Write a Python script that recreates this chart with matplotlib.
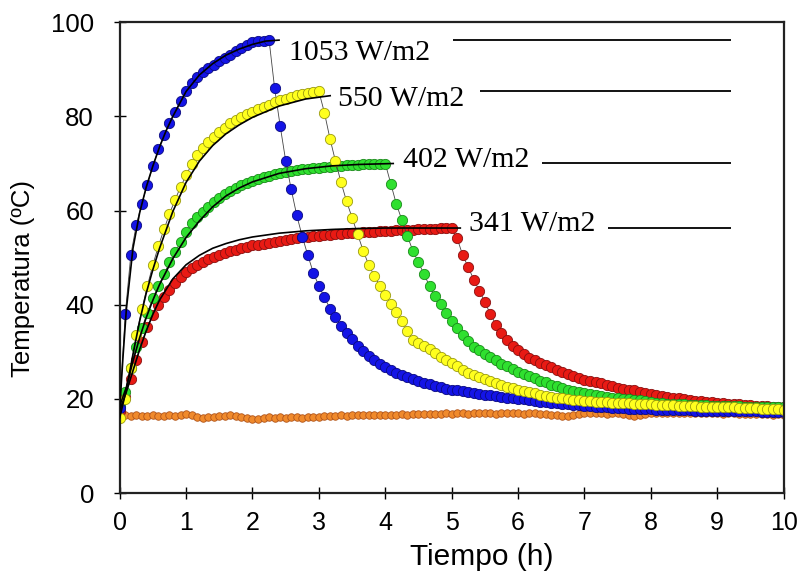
import matplotlib
matplotlib.use("Agg")
import matplotlib.pyplot as plt
import numpy as np

# measured temperatures every 5 min, 0 - 10 h
T_1053 = [18.0, 38.0, 50.5, 57.0, 61.5, 65.5, 69.5, 73.0, 76.0, 78.5, 81.0, 83.3,
          85.5, 87.0, 88.3, 89.4, 90.3, 91.0, 91.8, 92.5, 93.1, 93.8, 94.5, 95.1,
          95.7, 96.0, 96.1, 96.2, 86.0, 78.0, 70.6, 64.5, 59.0, 54.5, 50.5, 46.8,
          44.0, 41.6, 39.2, 37.5, 35.5, 34.0, 32.8, 31.3, 30.2, 29.2, 28.3, 27.5,
          26.8, 26.2, 25.6, 25.1, 24.6, 24.2, 23.8, 23.4, 23.1, 22.8, 22.5, 22.2,
          22.0, 21.8, 21.6, 21.5, 21.3, 21.1, 20.9, 20.8, 20.6, 20.5, 20.3, 20.2,
          20.0, 19.9, 19.7, 19.6, 19.4, 19.3, 19.2, 19.1, 19.0, 18.9, 18.8, 18.7,
          18.6, 18.5, 18.4, 18.3, 18.2, 18.1, 18.0, 18.0, 17.9, 17.9, 17.8, 17.8,
          17.8, 17.7, 17.7, 17.7, 17.6, 17.6, 17.6, 17.6, 17.5, 17.5, 17.5, 17.5,
          17.5, 17.5, 17.4, 17.4, 17.4, 17.4, 17.4, 17.4, 17.3, 17.3, 17.3, 17.3,
          17.3]
T_550 = [16.0, 20.0, 26.5, 33.5, 39.0, 44.0, 48.5, 52.5, 56.0, 59.3, 62.3, 65.0,
         67.5, 69.8, 71.8, 73.3, 74.5, 75.6, 76.6, 77.6, 78.5, 79.2, 79.9, 80.5,
         81.0, 81.5, 82.0, 82.5, 83.0, 83.5, 83.8, 84.1, 84.5, 84.8, 85.0, 85.2,
         85.3, 80.8, 75.3, 70.5, 66.0, 62.0, 58.5, 55.0, 51.5, 48.5, 46.2, 44.0,
         42.0, 40.2, 38.4, 36.5, 34.5, 32.6, 31.9, 31.3, 30.6, 29.8, 29.0, 28.3,
         27.6, 26.9, 26.2, 25.6, 25.0, 24.6, 24.2, 23.8, 23.4, 23.0, 22.6, 22.3,
         22.0, 21.7, 21.4, 21.2, 20.9, 20.7, 20.5, 20.3, 20.1, 20.0, 19.8, 19.7,
         19.6, 19.5, 19.4, 19.4, 19.3, 19.2, 19.2, 19.1, 19.1, 19.0, 19.0, 18.9,
         18.9, 18.8, 18.8, 18.7, 18.7, 18.6, 18.6, 18.5, 18.5, 18.4, 18.4, 18.4,
         18.3, 18.3, 18.2, 18.2, 18.1, 18.1, 18.0, 18.0, 17.9, 17.9, 17.8, 17.8,
         17.7]
T_402 = [18.5, 21.5, 26.5, 31.0, 35.0, 38.3, 41.5, 44.0, 46.5, 49.0, 51.2, 53.3,
         55.5, 57.3, 58.7, 59.8, 60.8, 61.8, 62.7, 63.5, 64.2, 64.8, 65.4, 65.9,
         66.3, 66.7, 67.1, 67.4, 67.7, 68.0, 68.2, 68.4, 68.6, 68.8, 68.9, 69.0,
         69.1, 69.2, 69.3, 69.4, 69.5, 69.6, 69.6, 69.7, 69.8, 69.8, 69.9, 70.0,
         70.0, 65.7, 61.4, 58.0, 54.6, 51.4, 49.0, 46.5, 44.0, 41.8, 40.2, 38.3,
         36.6, 35.0, 33.6, 32.3, 31.1, 30.3, 29.6, 28.9, 28.2, 27.5, 26.9, 26.3,
         25.8, 25.3, 24.8, 24.4, 23.9, 23.5, 23.0, 22.7, 22.3, 22.0, 21.7, 21.5,
         21.3, 21.1, 20.9, 20.7, 20.5, 20.3, 20.2, 20.0, 19.9, 19.8, 19.7, 19.5,
         19.3, 19.2, 19.1, 19.0, 19.0, 18.9, 18.9, 18.8, 18.8, 18.7, 18.7, 18.6,
         18.6, 18.6, 18.5, 18.5, 18.5, 18.4, 18.4, 18.4, 18.3, 18.3, 18.3, 18.2,
         18.2]
T_341 = [17.5, 20.5, 24.3, 28.3, 32.0, 35.2, 37.8, 40.0, 41.7, 43.2, 44.6, 45.8,
         46.9, 47.8, 48.5, 49.1, 49.7, 50.2, 50.6, 51.0, 51.4, 51.7, 52.0, 52.3,
         52.6, 52.8, 53.0, 53.2, 53.4, 53.6, 53.8, 54.0, 54.1, 54.3, 54.4, 54.6,
         54.7, 54.8, 54.9, 55.0, 55.1, 55.2, 55.3, 55.3, 55.4, 55.5, 55.5, 55.6,
         55.7, 55.7, 55.8, 55.8, 55.9, 55.9, 56.0, 56.0, 56.1, 56.1, 56.2, 56.2,
         56.3, 54.1, 50.5, 48.0, 45.3, 43.0, 40.6, 38.0, 35.8, 34.0, 32.5, 31.3,
         30.3, 29.5, 28.8, 28.2, 27.7, 27.2, 26.7, 26.2, 25.7, 25.3, 24.8, 24.4,
         24.1, 23.8, 23.6, 23.3, 23.0, 22.7, 22.4, 22.2, 22.0, 21.8, 21.5, 21.3,
         21.1, 20.9, 20.7, 20.5, 20.3, 20.1, 19.9, 19.8, 19.6, 19.5, 19.4, 19.3,
         19.2, 19.1, 19.0, 18.9, 18.9, 18.8, 18.7, 18.6, 18.6, 18.5, 18.4, 18.3,
         18.2]
T_amb = [16.0, 16.5, 16.4, 16.6, 16.3, 16.4, 16.5, 16.3, 16.4, 16.5, 16.4, 16.6,
         16.9, 16.6, 16.1, 16.0, 16.1, 16.2, 16.4, 16.4, 16.5, 16.4, 16.2, 16.0,
         15.7, 15.8, 16.0, 16.1, 16.0, 16.1, 16.0, 16.1, 16.1, 16.0, 16.1, 16.2,
         16.2, 16.3, 16.3, 16.4, 16.5, 16.4, 16.5, 16.6, 16.6, 16.5, 16.6, 16.7,
         16.6, 16.7, 16.7, 16.8, 16.7, 16.8, 16.8, 16.9, 16.8, 16.9, 16.9, 17.0,
         16.9, 17.0, 17.0, 16.9, 17.0, 17.1, 17.0, 17.0, 16.9, 17.0, 17.1, 17.0,
         17.0, 16.9, 17.0, 17.0, 16.9, 16.8, 16.6, 16.5, 16.4, 16.3, 16.6, 16.9,
         17.0, 17.1, 17.0, 17.0, 16.9, 17.0, 17.0, 16.9, 16.7, 16.4, 16.6, 16.9,
         17.0, 17.1, 17.0, 17.1, 17.0, 17.0, 17.1, 17.0, 17.0, 17.1, 17.0, 17.0,
         17.0, 16.9, 17.0, 17.0, 16.9, 16.9, 16.8, 16.9, 16.8, 16.8, 16.7, 16.8,
         16.7]
t = np.arange(len(T_1053)) * 5 / 60.0

# model curves for the heating stage
fit_t_1053 = [0, 0.05, 0.1, 0.2, 0.3, 0.4, 0.5, 0.6, 0.7, 0.8, 1.0, 1.2, 1.4, 1.6, 1.8, 2.0, 2.2, 2.4]
fit_1053 = [18, 29, 39, 52, 59.5, 65, 69.5, 73.5, 77, 80, 85.3, 88.8, 91.2, 93, 94.3, 95.3, 96, 96.2]
fit_t_550 = [0, 0.1, 0.2, 0.3, 0.4, 0.5, 0.6, 0.8, 1.0, 1.2, 1.4, 1.6, 1.8, 2.0, 2.4, 2.8, 3.17]
fit_550 = [16, 22, 29.5, 36.5, 42.5, 47.5, 52, 59.8, 66, 70.5, 73.8, 76.3, 78.2, 79.8, 82.2, 83.7, 84.4]
fit_t_402 = [0, 0.1, 0.2, 0.3, 0.4, 0.5, 0.6, 0.8, 1.0, 1.2, 1.4, 1.6, 1.8, 2.0, 2.4, 2.8, 3.2, 3.6, 4.12]
fit_402 = [18.5, 22.5, 28, 33, 37.3, 41, 44.3, 49.8, 54.3, 57.8, 60.8, 63.1, 64.8, 66.1, 67.9, 68.9, 69.5, 69.8, 70.0]
fit_t_341 = [0, 0.1, 0.2, 0.3, 0.4, 0.5, 0.6, 0.8, 1.0, 1.2, 1.4, 1.6, 1.8, 2.0, 2.4, 2.8, 3.2, 3.6, 4.0, 5.13]
fit_341 = [17.5, 21.5, 26, 30.5, 34.5, 38, 41, 45.5, 48.5, 50.5, 52, 53, 53.8, 54.4, 55.2, 55.7, 56.0, 56.2, 56.3, 56.3]

# asymptote lines to the right of the labels
plateau_x0 = [5.02, 5.43, 6.36, 7.36]
plateau_x1 = 9.2
plateau_y = [96.2, 85.3, 70.1, 56.3]

labels = ["1053 W/m2", "550 W/m2", "402 W/m2", "341 W/m2"]
label_x = [2.55, 3.29, 4.27, 5.26]
label_y = [91.9, 82.3, 69.3, 55.7]

fig = plt.figure(figsize=(7.98, 5.85), dpi=100)
ax = fig.add_axes([0.150, 0.157, 0.832, 0.805])

sans = ["Liberation Sans", "Arial", "DejaVu Sans"]
serif = ["Liberation Serif", "Times New Roman", "DejaVu Serif"]

def series(y, face, edge, ms=7.4, z=2):
    ax.plot(t, y, color="#444444", lw=0.6, marker="o", ms=ms,
            mfc=face, mec=edge, mew=0.6, zorder=z)

series(T_amb, "#f08a2c", "#b0541a", ms=5.4, z=2)
series(T_341, "#e81a14", "#8a1010", z=2.1)
series(T_402, "#2fe02f", "#1a8a1a", z=2.2)
series(T_1053, "#1414e6", "#0a0a80", z=2.3)
series(T_550, "#ffff1e", "#9a9a10", z=2.4)

for ft, fy in [(fit_t_1053, fit_1053), (fit_t_550, fit_550),
               (fit_t_402, fit_402), (fit_t_341, fit_341)]:
    ax.plot(ft, fy, color="black", lw=1.2, zorder=3)

ax.hlines(plateau_y, plateau_x0, plateau_x1, color="black", lw=1.3, zorder=3)

for s, x, y in zip(labels, label_x, label_y):
    ax.text(x, y, s, family=serif, fontsize=21.5, va="baseline", ha="left", zorder=4)

ax.set_xlim(0, 10)
ax.set_ylim(0, 100)
ax.set_xticks(range(0, 11))
ax.set_yticks(range(0, 101, 20))
ax.tick_params(direction="inout", length=9, width=1, pad=8, labelsize=18)
ax.tick_params(axis="y", pad=14, labelsize=18.5)
for lab in ax.get_xticklabels() + ax.get_yticklabels():
    lab.set_family(sans)
for sp in ax.spines.values():
    sp.set_linewidth(1.6)
    sp.set_color("#222222")

ax.set_xlabel("Tiempo (h)", family=sans, fontsize=21.5)
ax.set_ylabel("Temperatura (ºC)", family=sans, fontsize=18.5)
ax.xaxis.set_label_coords(0.545, -0.105)
ax.yaxis.set_label_coords(-0.128, 0.455)

plt.savefig("out.png", dpi=100)
